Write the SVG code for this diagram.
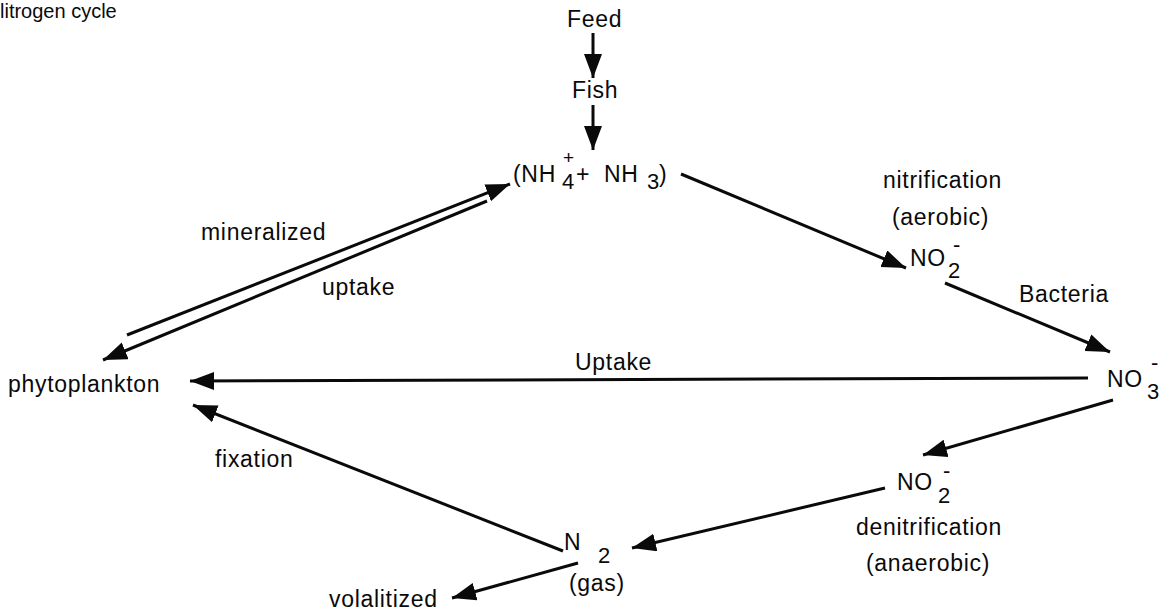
<svg xmlns="http://www.w3.org/2000/svg" width="1164" height="612" viewBox="0 0 1164 612">
<style>
.t{font-family:"Liberation Sans",Arial,sans-serif;font-size:23px;letter-spacing:0.7px;fill:#0a0a0a}
.s{font-family:"Liberation Sans",Arial,sans-serif;font-size:22px;fill:#0a0a0a}
.p{font-family:"Liberation Sans",Arial,sans-serif;font-size:19px;fill:#0a0a0a}
.title{font-family:"Liberation Sans",Arial,sans-serif;font-size:20px;fill:#0a0a0a}
.c line{stroke:#0a0a0a;stroke-width:3;marker-end:url(#ah)}
</style>
<defs>
<marker id="ah" markerUnits="userSpaceOnUse" markerWidth="26" markerHeight="20" refX="24" refY="9" orient="auto">
<path d="M0,0 L24,9 L0,18 z" fill="#0a0a0a"/>
</marker>
</defs>
<rect width="1164" height="612" fill="#fff"/>
<text class="title" x="0" y="18">litrogen cycle</text>

<g class="c" id="connectors">
<line x1="593" y1="33" x2="593" y2="78"/>
<line x1="593" y1="105" x2="593" y2="150"/>
<line x1="681" y1="174" x2="906" y2="268"/>
<line x1="945" y1="283" x2="1110" y2="352"/>
<line x1="1088" y1="378" x2="190" y2="381"/>
<line x1="1113" y1="400" x2="923" y2="455"/>
<line x1="885" y1="488" x2="632" y2="548"/>
<line x1="563" y1="551" x2="193" y2="405"/>
<line x1="578" y1="563" x2="452" y2="598"/>
<line x1="127" y1="335" x2="510" y2="184"/>
<line x1="487" y1="201" x2="103" y2="360"/>
</g>

<g id="feed"><text class="t" x="567" y="27">Feed</text></g>
<g id="fish"><text class="t" x="572" y="98">Fish</text></g>
<g id="ammonia">
<text class="t" x="513" y="182">(NH</text>
<text class="s" x="562" y="189">4</text>
<text class="p" x="563" y="164">+</text>
<text class="t" x="576" y="182">+</text>
<text class="t" x="604" y="182">NH</text>
<text class="s" x="647" y="189">3</text>
<text class="t" x="659" y="182">)</text>
</g>
<g id="nitrite1">
<text class="t" x="910" y="266">NO</text>
<text class="s" x="948" y="278">2</text>
<text class="s" x="953" y="252">-</text>
</g>
<g id="nitrate">
<text class="t" x="1107" y="387">NO</text>
<text class="s" x="1147" y="399">3</text>
<text class="s" x="1151" y="370">-</text>
</g>
<g id="nitrite2">
<text class="t" x="897" y="490">NO</text>
<text class="s" x="938" y="503">2</text>
<text class="s" x="943" y="478">-</text>
</g>
<g id="n2">
<text class="t" x="564" y="550">N</text>
<text class="s" x="598" y="563">2</text>
<text class="t" x="569" y="591">(gas)</text>
</g>
<g id="phytoplankton"><text class="t" x="8" y="392">phytoplankton</text></g>
<g id="volalitized"><text class="t" x="329" y="607">volalitized</text></g>

<g id="labels">
<text class="t" x="883" y="188">nitrification</text>
<text class="t" x="892" y="225">(aerobic)</text>
<text class="t" x="1019" y="302">Bacteria</text>
<text class="t" x="575" y="370">Uptake</text>
<text class="t" x="856" y="535">denitrification</text>
<text class="t" x="866" y="571">(anaerobic)</text>
<text class="t" x="215" y="467">fixation</text>
<text class="t" x="201" y="240">mineralized</text>
<text class="t" x="322" y="295">uptake</text>
</g>
</svg>
